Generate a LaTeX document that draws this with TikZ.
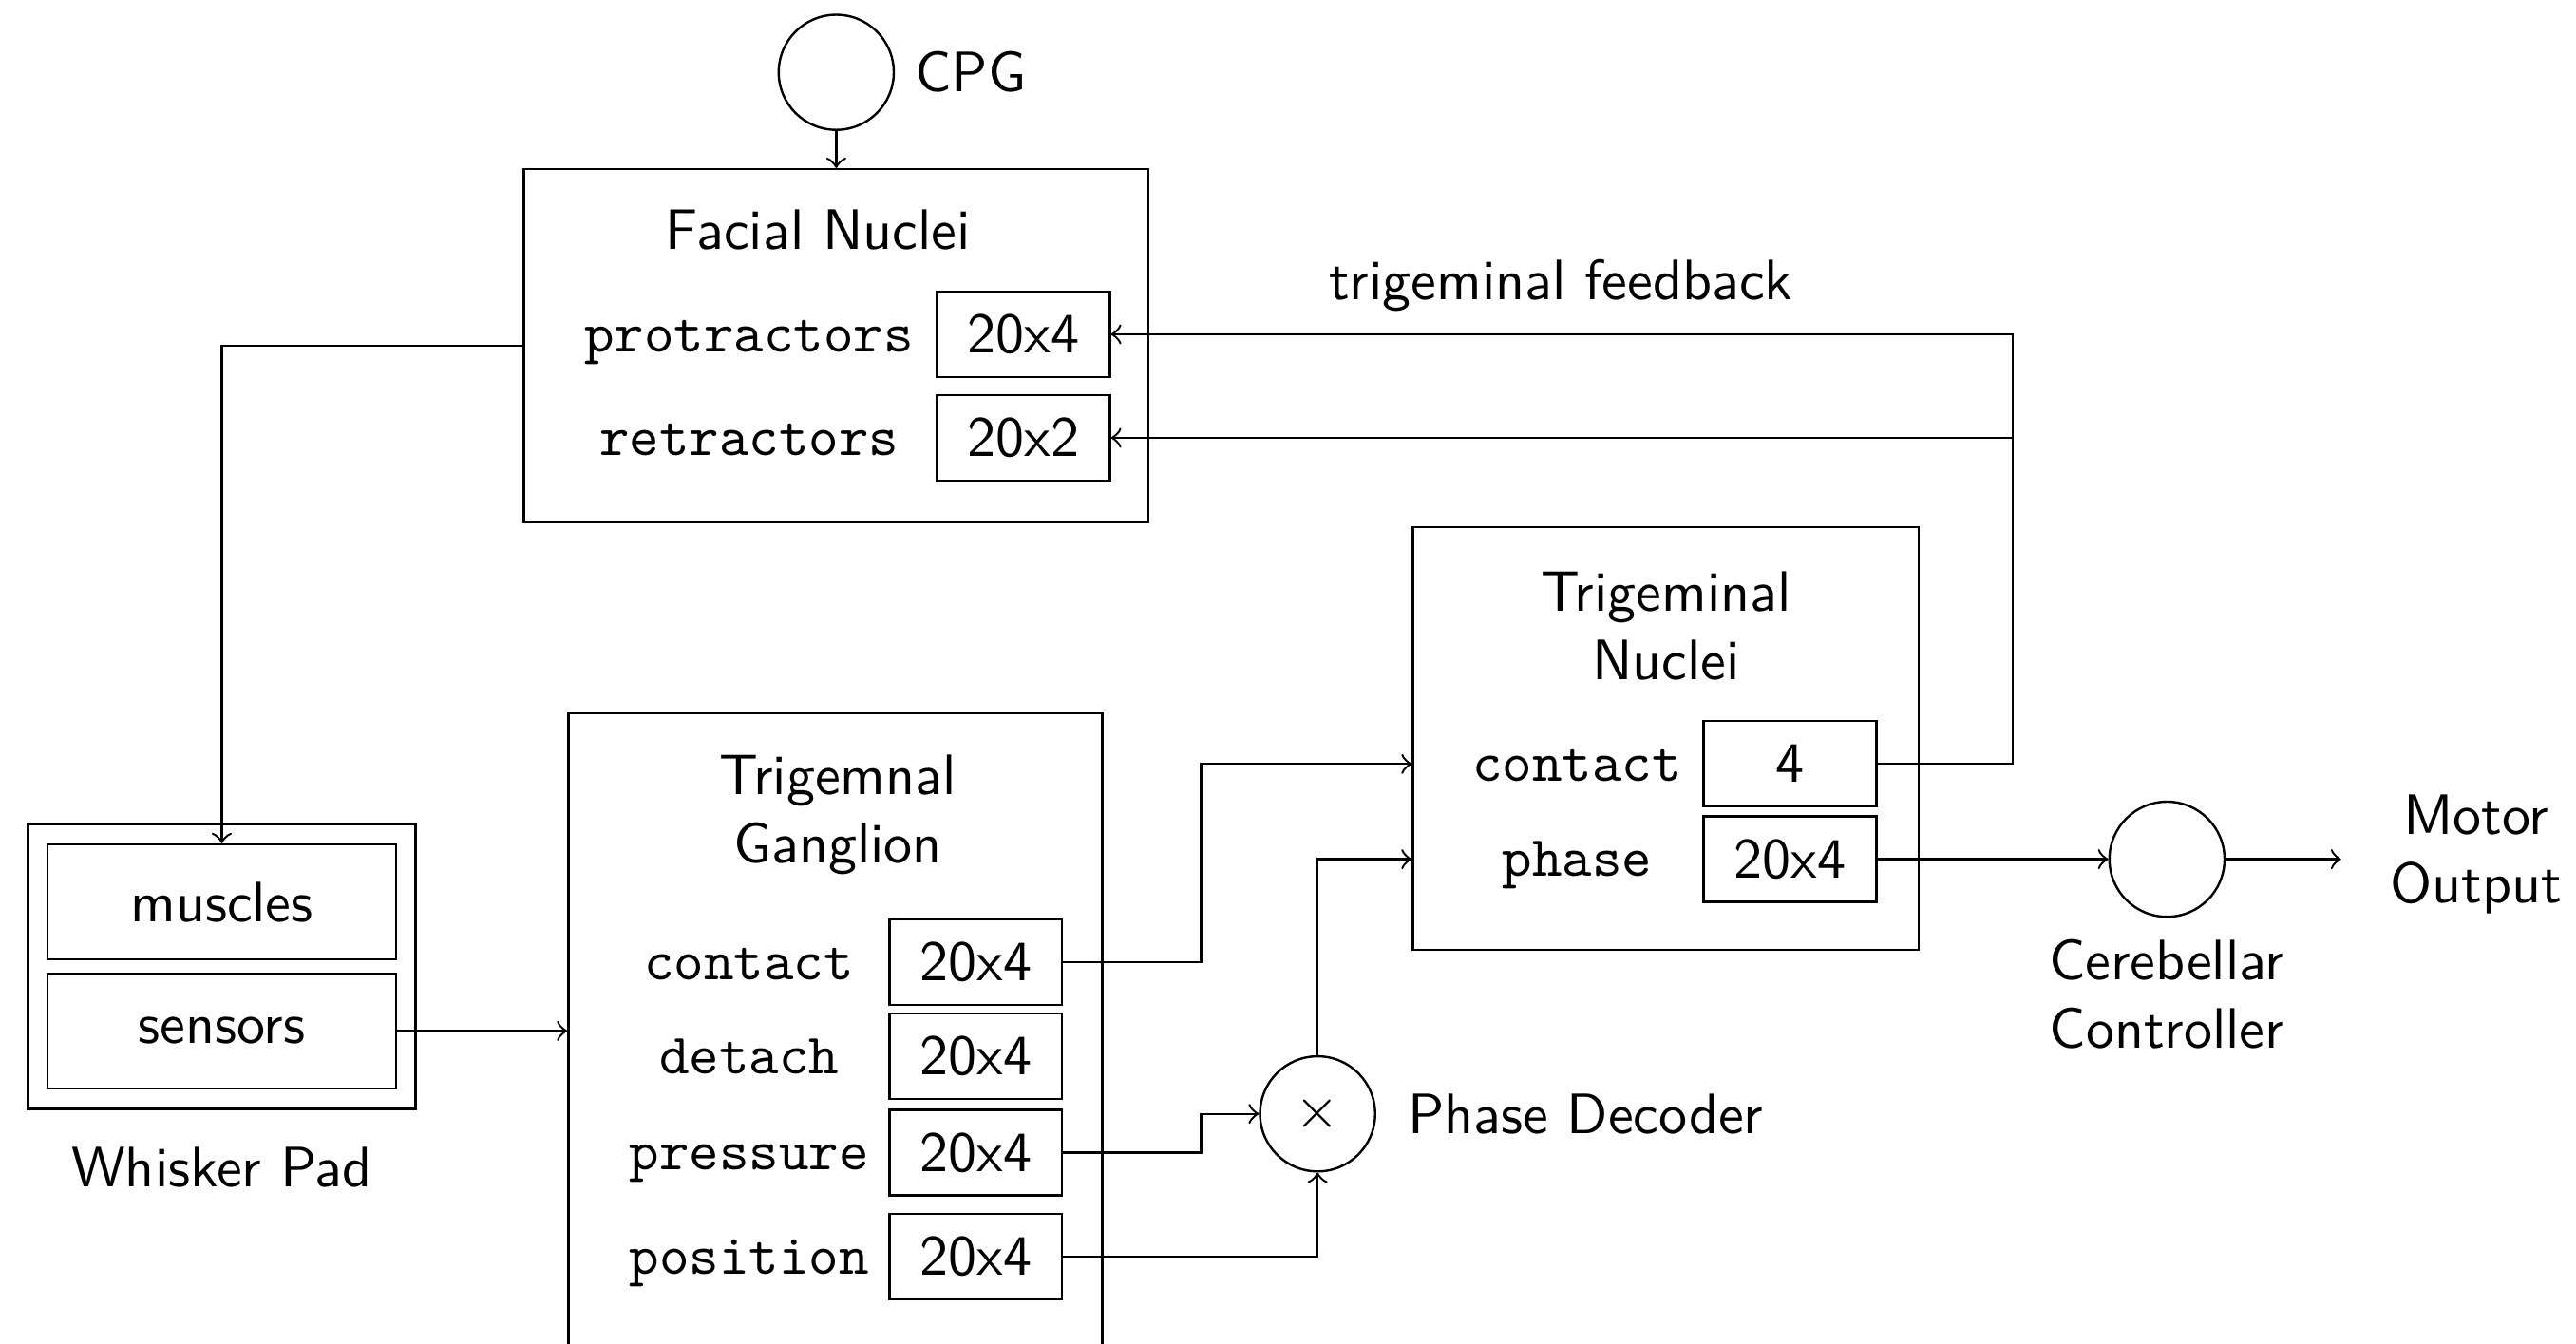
\documentclass[tikz,border=0pt]{standalone}
\usepackage{fontspec}
\renewcommand{\familydefault}{\sfdefault}
\usetikzlibrary{positioning, arrows}
\tikzset{
  port/.style={draw, minimum width=30.3pt, minimum height=15pt, inner sep=2pt},
  portname/.style={font=\ttfamily, text height=1.5ex, text depth=.25ex, inner sep=0pt},
  unit/.style={draw, circle, minimum size=20.2pt, inner sep=0pt},
}

\begin{document}
\begin{tikzpicture}[x=0.2883pt, y=-0.2883pt]
	\tikzstyle{block}=[draw, inner sep=0pt]
	\useasboundingbox (0,0) rectangle (1568,818);

	% CPG and facial nuclei
	\node[unit] (cpg) at (509,44) {};
	\node[right = 0pt of cpg] (cpglabel) {CPG};
	\node[block, minimum width=109.6pt, minimum height=62pt] (facial) at (509,210.5) {};
	\node (ftitle) at (498,140) {Facial Nuclei};
	\node[port] (fprot) at (623,203.5) {20x4};
	\node[port] (fretr) at (623,266.5) {20x2};
	\node[portname] (fprotname) at (456,204.5) {protractors};
	\node[portname] (fretrname) at (456,267.5) {retractors};

	% whisker pad
	\node[block, minimum width=68pt, minimum height=49.9pt] (pad) at (135,588.5) {};
	\node[block, minimum width=61.1pt, minimum height=20.2pt] (muscles) at (135,549) {muscles};
	\node[block, minimum width=61.1pt, minimum height=20.2pt] (sensors) at (135,627.5) {sensors};
	\node[below = 3pt of pad] (padlabel) {Whisker Pad};

	% trigeminal ganglion
	\node[block, minimum width=93.7pt, minimum height=141.8pt] (ganglion) at (508.5,680) {};
	\node[align=center] (gtitle) at (510,496) {Trigemnal\\Ganglion};
	\node[port] (gcontact) at (594,585.5) {20x4};
	\node[port] (gdetach) at (594,643) {20x4};
	\node[port] (gpressure) at (594,701.5) {20x4};
	\node[port] (gposition) at (594,765) {20x4};
	\node[portname] (gcontactname) at (456,586.5) {contact};
	\node[portname] (gdetachname) at (456,644) {detach};
	\node[portname] (gpressurename) at (456,702.5) {pressure};
	\node[portname] (gpositionname) at (456,766) {position};

	% trigeminal nuclei
	\node[block, minimum width=88.8pt, minimum height=74.1pt] (trigem) at (1014,449.5) {};
	\node[align=center] (ttitle) at (1014,381) {Trigeminal\\Nuclei};
	\node[port] (tcontact) at (1089.5,465) {4};
	\node[port] (tphase) at (1089.5,523) {20x4};
	\node[portname] (tcontactname) at (960,466) {contact};
	\node[portname] (tphasename) at (960,524) {phase};

	% decoder and controller
	\node[unit] (dec) at (802,678) {$\times$};
	\node[right = 2pt of dec] (declabel) {Phase Decoder};
	\node[unit] (cereb) at (1319,523) {};
	\node[align=center] (cereblabel) at (1319,605) {Cerebellar\\Controller};
	\coordinate (out) at (1425,523);
	\node[align=center] (outlabel) at (1507,520) {Motor\\Output};

	\coordinate (jog) at (731,0);
	\coordinate (fb) at (1225,0);

	\draw[->] (cpg) -- (facial);
	\draw[->] (facial.west) -| (muscles.north);
	\draw[->] (sensors.east) -- (sensors -| ganglion.west);
	\draw[->] (gcontact.east) -- (gcontact.east -| jog) |- (trigem.west |- tcontact);
	\draw[->] (gpressure.east) -- (gpressure.east -| jog) |- (dec.west);
	\draw[->] (gposition.east) -| (dec.south);
	\draw[->] (dec.north) |- (trigem.west |- tphase);
	\draw[->] (tphase.east) -- (cereb.west);
	\draw[->] (cereb.east) -- (out);
	\draw[->] (tcontact.east) -- (tcontact.east -| fb) |- (fprot.east);
	\draw[->] (fb |- fretr) -- (fretr.east);
	\node (fblabel) at (950,174) {trigeminal feedback};
\end{tikzpicture}
\end{document}
